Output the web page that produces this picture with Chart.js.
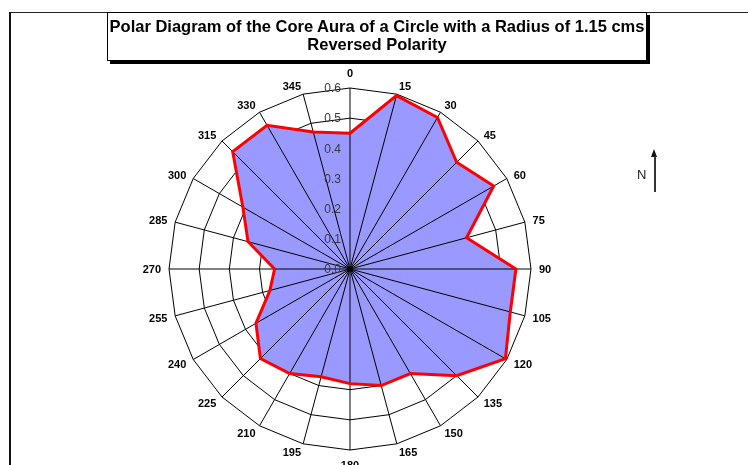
<!DOCTYPE html>
<html>
<head>
<meta charset="utf-8">
<script src="https://cdn.jsdelivr.net/npm/chart.js@4/dist/chart.umd.min.js"></script>
<style>
  html, body { margin: 0; padding: 0; background: #fff; overflow: hidden; }
  body { width: 748px; height: 465px; position: relative; font-family: Arial, "Liberation Sans", sans-serif; }
  #frameTop { position: absolute; left: 9px; top: 12px; width: 739px; height: 0; border-top: 1px solid #222; }
  #frameLeft { position: absolute; left: 9px; top: 12px; width: 0; height: 460px; border-left: 2px solid #111; }
  #chart { position: absolute; left: 0; top: 0; }
  #title {
    position: absolute; left: 107px; top: 12px; width: 538px;
    border: 1px solid #000; box-shadow: 3px 3px 0 #000; background: #fff;
    font-weight: bold; font-size: 16.5px; line-height: 18px; text-align: center;
    padding-top: 4px; box-sizing: content-box; height: 43px; z-index: 2;
  }
  #north { position: absolute; left: 637px; top: 167px; font-size: 13px; color: #222; }
  #arrowLine { position: absolute; left: 654px; top: 156px; width: 1.5px; height: 36px; background: #333; }
  #arrowHead {
    position: absolute; left: 651px; top: 149px; width: 0; height: 0;
    border-left: 3.5px solid transparent; border-right: 3.5px solid transparent; border-bottom: 8px solid #111;
  }
</style>
</head>
<body>
<div id="frameTop"></div>
<div id="frameLeft"></div>
<canvas id="chart" width="748" height="465"></canvas>
<div id="title">Polar Diagram of the Core Aura of a Circle with a Radius of 1.15 cms<br>Reversed Polarity</div>
<div id="north">N</div>
<div id="arrowHead"></div>
<div id="arrowLine"></div>
<script>
// compass bearings (degrees)
const angleLabels = ['0', '15', '30', '45', '60', '75', '90', '105', '120', '135', '150', '165',
                     '180', '195', '210', '225', '240', '255', '270', '285', '300', '315', '330', '345'];

// aura radius
const auraValues = [0.45, 0.595, 0.58, 0.50, 0.55, 0.40, 0.55, 0.55, 0.595, 0.50, 0.40, 0.40,
                    0.38, 0.37, 0.40, 0.42, 0.36, 0.275, 0.25, 0.35, 0.41, 0.55, 0.55, 0.47];

// radial tick labels
const radialTicks = ['0.0', '0.1', '0.2', '0.3', '0.4', '0.5', '0.6'];
const radialMax = 0.6;

// spokes go over the blue fill but under the red outline, labels on top
const polarExtras = {
    id: 'polarExtras',
    afterDatasetDraw(chart, args) {
        if (args.index !== 1) return;
        const r = chart.scales.r;
        const ctx = chart.ctx;
        ctx.save();
        ctx.strokeStyle = '#000';
        ctx.lineWidth = 1;
        angleLabels.forEach((lbl, i) => {
            const p = r.getPointPositionForValue(i, radialMax);
            ctx.beginPath();
            ctx.moveTo(r.xCenter, r.yCenter);
            ctx.lineTo(p.x, p.y);
            ctx.stroke();
        });
        ctx.restore();
    },
    afterDatasetsDraw(chart) {
        const r = chart.scales.r;
        const ctx = chart.ctx;
        ctx.save();
        // bearing labels
        ctx.fillStyle = '#000';
        ctx.font = 'bold 11px Arial, "Liberation Sans", sans-serif';
        ctx.textBaseline = 'middle';
        angleLabels.forEach((lbl, i) => {
            const deg = Number(lbl);
            const dist = r.drawingArea + ((deg === 0 || deg === 180) ? 15 : 8);
            const p = r.getPointPosition(i, dist);
            if (deg === 0 || deg === 180) ctx.textAlign = 'center';
            else if (deg < 180) ctx.textAlign = 'left';
            else ctx.textAlign = 'right';
            ctx.fillText(lbl, p.x, p.y + 1);
        });
        // value labels along the 0 bearing
        ctx.fillStyle = '#3a3a3a';
        ctx.font = '12px Arial, "Liberation Sans", sans-serif';
        ctx.textAlign = 'right';
        radialTicks.forEach(t => {
            const d = r.getDistanceFromCenterForValue(Number(t));
            ctx.fillText(t, r.xCenter - 9, r.yCenter - d + 1);
        });
        ctx.restore();
    }
};

new Chart(document.getElementById('chart').getContext('2d'), {
    type: 'radar',
    data: {
        labels: angleLabels,
        datasets: [
            {
                data: auraValues,
                borderColor: '#FF0000',
                borderWidth: 3,
                borderJoinStyle: 'miter',
                fill: false,
                pointRadius: 0,
                tension: 0
            },
            {
                data: auraValues,
                backgroundColor: '#9999FF',
                borderWidth: 0,
                fill: true,
                pointRadius: 0,
                tension: 0
            }
        ]
    },
    options: {
        responsive: false,
        animation: false,
        layout: { padding: { left: 169, right: 217, top: 88, bottom: 15 } },
        plugins: {
            legend: { display: false },
            tooltip: { enabled: false }
        },
        scales: {
            r: {
                min: 0,
                max: radialMax,
                ticks: { display: false, stepSize: 0.1 },
                grid: { circular: false, color: '#000', lineWidth: 1 },
                angleLines: { display: false },
                pointLabels: { display: false }
            }
        }
    },
    plugins: [polarExtras]
});
</script>
</body>
</html>
